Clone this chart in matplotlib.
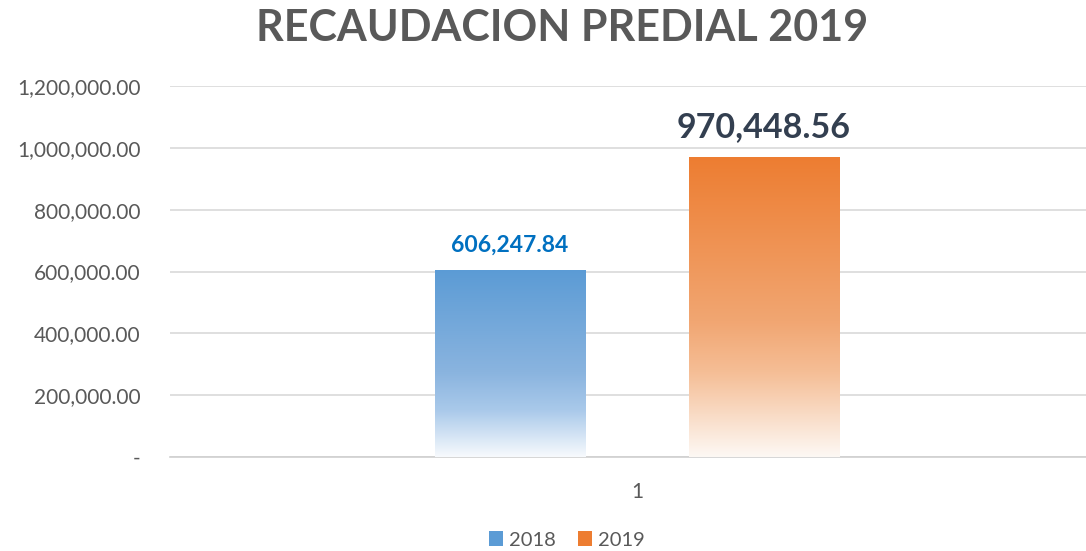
import matplotlib
matplotlib.use("Agg")
import matplotlib.pyplot as plt
import numpy as np
from matplotlib.colors import LinearSegmentedColormap
from matplotlib.patches import Patch

plt.rcParams['font.family'] = ['Lato', 'DejaVu Sans']

categories = ["1"]
series_names = ["2018", "2019"]
values = [606247.84, 970448.56]
label_texts = ["606,247.84", "970,448.56"]
yticks = [0, 200000, 400000, 600000, 800000, 1000000, 1200000]
ytick_labels = ["-", "200,000.00", "400,000.00", "600,000.00", "800,000.00", "1,000,000.00", "1,200,000.00"]

top_colors = ["#5B9BD5", "#ED7D31"]
# gradient stops from bottom (0) to top (1)
grad_stops = [
    [(0.0, "#F7FAFD"), (0.25, "#A9C9EA"), (0.45, "#8AB4DF"), (1.0, "#5B9BD5")],
    [(0.0, "#FDF8F4"), (0.28, "#F5BE96"), (0.45, "#F1A672"), (1.0, "#ED7D31")],
]
label_colors = ["#0070C0", "#333F50"]
label_sizes = [16.5, 24.5]

fig = plt.figure(figsize=(10.86, 5.51), dpi=100)
ax = fig.add_axes([170/1086, 94/551, 934/1086, 371/551])

width = 0.1606
offset = 0.136
xs = [-offset, offset]

for i, (x, v) in enumerate(zip(xs, values)):
    bar = ax.bar(x, v, width=width, color="none", edgecolor="none", zorder=3)[0]
    cmap = LinearSegmentedColormap.from_list(f"g{i}", grad_stops[i])
    grad = np.linspace(0, 1, 256).reshape(-1, 1)
    im = ax.imshow(grad, cmap=cmap, aspect="auto", origin="lower",
                   extent=[x - width/2, x + width/2, 0, v], zorder=3, interpolation="bicubic")
    im.set_clip_path(bar)
    ax.text(x, v + 45000, label_texts[i], ha="center", va="bottom",
            color=label_colors[i], fontsize=label_sizes[i], fontweight="bold", zorder=4)

ax.set_xlim(-0.5, 0.5)
ax.set_ylim(0, 1200000)
ax.set_yticks(yticks)
ax.set_yticklabels(ytick_labels, fontsize=15, color="#595959")
ax.set_xticks([0])
ax.set_xticklabels(categories, fontsize=15, color="#595959")
ax.tick_params(axis="both", length=0)
ax.tick_params(axis="y", pad=21)
ax.tick_params(axis="x", pad=18)
ax.grid(axis="y", color="#D9D9D9", linewidth=1.2, zorder=0)
ax.set_axisbelow(True)
for s in ["top", "right", "left"]:
    ax.spines[s].set_visible(False)
ax.spines["bottom"].set_color("#D0D0D0")
ax.spines["bottom"].set_linewidth(1.2)

fig.text(562/1086, 1 - 28/551, "RECAUDACION PREDIAL 2019", ha="center", va="center",
         fontsize=31, fontweight="bold", color="#595959")

handles = [Patch(facecolor=top_colors[0], edgecolor="none"), Patch(facecolor=top_colors[1], edgecolor="none")]
fig.legend(handles, series_names, loc="center", bbox_to_anchor=(567/1086, 1 - 540/551), ncol=2,
           frameon=False, fontsize=14.5, handlelength=0.7, handleheight=0.7, handletextpad=0.3,
           columnspacing=1.1, labelcolor="#595959")

fig.savefig("out.png", dpi=100)
